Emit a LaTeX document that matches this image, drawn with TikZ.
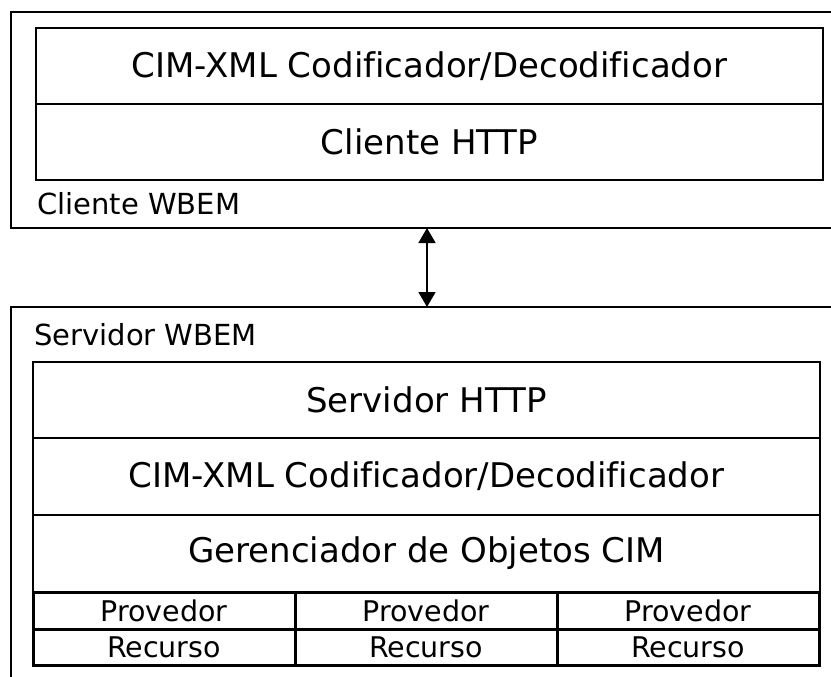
\documentclass[tikz,border=0pt]{standalone}
\usepackage{fontspec}
\setmainfont[Ligatures={NoCommon}]{DejaVu Sans}
\usetikzlibrary{arrows.meta}
\begin{document}
\begin{tikzpicture}[x=1pt,y=-1pt,
  frame/.style={draw, line width=1.6pt},
  layer/.style={draw, line width=1.6pt, rectangle, inner sep=0pt, font=\fontsize{34}{38}\selectfont},
  cell/.style={draw, line width=3pt, rectangle, inner sep=0pt, font=\fontsize{28.5}{31}\selectfont},
  lbl/.style={anchor=base west, inner sep=0pt, font=\fontsize{29}{32}\selectfont}]
\useasboundingbox (0,0) rectangle (831,677);
% outer frames
\draw[frame] (840,12) -- (11,12) -- (11,228) -- (840,228);
\draw[frame] (840,307) -- (11,307) -- (11,690);
\coordinate (cb) at (427,228);
\coordinate (st) at (427,307);
% client
\node[layer, minimum width=787pt, minimum height=76pt] (c1) at (429.5,66) {CIM-XML Codificador/Decodificador};
\node[layer, minimum width=787pt, minimum height=76pt] (c2) at (429.5,142) {Cliente HTTP};
\node[lbl] (cl) at (37,214) {Cliente WBEM};
% arrow
\draw[line width=1.6pt, {Triangle[length=15pt,width=17pt]}-{Triangle[length=15pt,width=17pt]}] (cb) -- (st);
% server
\node[lbl] (sl) at (34,345) {Servidor WBEM};
\node[layer, minimum width=787pt, minimum height=76pt] (s1) at (426.5,400) {Servidor HTTP};
\node[layer, minimum width=787pt, minimum height=77pt] (s2) at (426.5,476.5) {CIM-XML Codificador/Decodificador};
\node[layer, minimum width=787pt, minimum height=77pt] (s3) at (426.5,553.5) {Gerenciador de Objetos CIM};
\foreach \n/\x in {a/164,b/426,c/688}{
  \node[cell, minimum width=262pt, minimum height=37pt] (p\n) at (\x,610.5) {Provedor};
  \node[cell, minimum width=262pt, minimum height=36pt] (r\n) at (\x,647) {Recurso};
}
\end{tikzpicture}
\end{document}
